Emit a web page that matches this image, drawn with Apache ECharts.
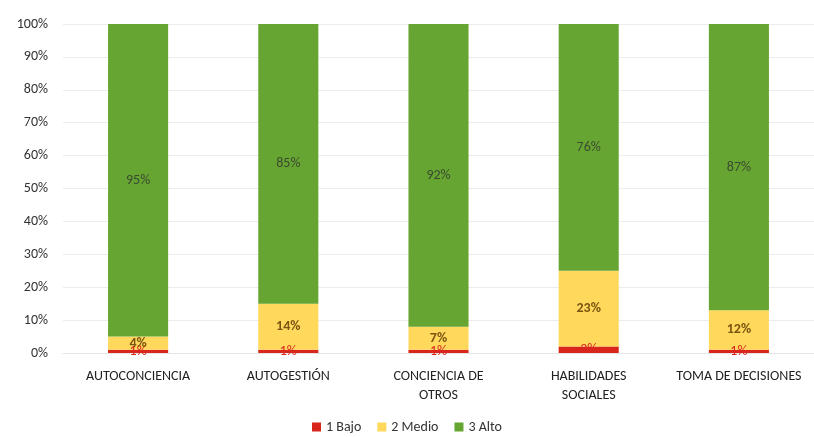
<!DOCTYPE html>
<html><head><meta charset="utf-8">
<script src="https://cdn.jsdelivr.net/npm/echarts@6/dist/echarts.min.js"></script>
<style>html,body{margin:0;padding:0;background:#fff}#c{width:814px;height:437px}</style>
</head><body><div id="c"></div>
<script>
const categories = ['AUTOCONCIENCIA', 'AUTOGESTIÓN', 'CONCIENCIA DE\nOTROS', 'HABILIDADES\nSOCIALES', 'TOMA DE DECISIONES'];
const bajo = [1, 1, 1, 2, 1];
const medio = [4, 14, 7, 23, 12];
const alto = [95, 85, 92, 76, 87];
const yTicks = [0, 10, 20, 30, 40, 50, 60, 70, 80, 90, 100];

const font = 'Calibri, Carlito, Lato, "Open Sans", sans-serif';
const chart = echarts.init(document.getElementById('c'));
function lbl(color, weight) {
  return { show: true, position: 'inside', formatter: p => p.value + '%', color: color, fontSize: 14, fontWeight: weight, fontFamily: font };
}
chart.setOption({
  animation: false,
  textStyle: { fontFamily: font },
  grid: { left: 63, right: 0, top: 24, bottom: 84 },
  legend: {
    bottom: -2, left: 'center', itemWidth: 9, itemHeight: 9, itemGap: 16, icon: 'rect',
    textStyle: { fontSize: 14, color: '#333', fontFamily: font },
    data: ['1 Bajo', '2 Medio', '3 Alto']
  },
  xAxis: {
    type: 'category', data: categories,
    axisTick: { show: false },
    axisLine: { show: true, lineStyle: { color: '#e4e4e4' } },
    axisLabel: { color: '#222', fontSize: 14, margin: 14, lineHeight: 19, interval: 0, fontFamily: font }
  },
  yAxis: {
    type: 'value', min: 0, max: 100, interval: 10,
    axisLabel: { formatter: v => yTicks.includes(v) ? v + '%' : '', color: '#333', fontSize: 14, margin: 15, fontFamily: font },
    splitLine: { lineStyle: { color: '#ececec' } },
    axisLine: { show: false }, axisTick: { show: false }
  },
  series: [
    { name: '1 Bajo', type: 'bar', stack: 's', data: bajo, barWidth: '40%', itemStyle: { color: '#d9261c' }, label: lbl('#d9261c', 'normal') },
    { name: '2 Medio', type: 'bar', stack: 's', data: medio, itemStyle: { color: '#ffd85c' }, label: lbl('#7a5410', 'bold') },
    { name: '3 Alto', type: 'bar', stack: 's', data: alto, itemStyle: { color: '#66a532' }, label: lbl('#3c4a30', 'normal') }
  ]
});
</script></body></html>
